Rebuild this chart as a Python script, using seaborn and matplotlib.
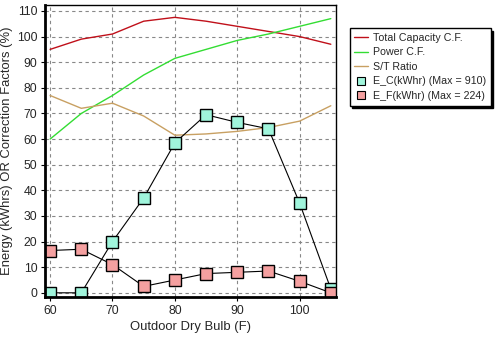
import matplotlib
matplotlib.use("Agg")
import matplotlib.pyplot as plt
import seaborn as sns
import pandas as pd
from matplotlib.lines import Line2D

temps = [60, 65, 70, 75, 80, 85, 90, 95, 100, 105]
total_cap_cf = [95, 99, 101, 106, 107.5, 106, 104, 102, 100, 97]
power_cf = [60, 70, 77, 85, 91.5, 95, 98.5, 101, 104, 107]
st_ratio = [77, 72, 74, 69, 61.5, 62, 63, 64.5, 67, 73]
e_c = [0, 0, 20, 37, 58.5, 69.5, 66.5, 64, 35, 1.5]
e_f = [16.5, 17, 11, 2.5, 5, 7.5, 8, 8.5, 4.5, 0]

labels = ["Total Capacity C.F.", "Power C.F.", "S/T Ratio",
          "E_C(kWhr) (Max = 910)", "E_F(kWhr) (Max = 224)"]
yticks = list(range(0, 111, 10))
xticks = [60, 70, 80, 90, 100]

sns.set_style("white")
plt.rcParams['font.family'] = ['Liberation Sans', 'DejaVu Sans']

df = pd.DataFrame({"t": temps, "tc": total_cap_cf, "p": power_cf, "st": st_ratio,
                   "ec": e_c, "ef": e_f})

fig = plt.figure(figsize=(4.96, 3.37), dpi=100)
ax = fig.add_axes([0.091, 0.119, 0.586, 0.866])

c_tc = "#c0101a"
c_p = "#33dd33"
c_st = "#c8a062"
c_ec = "#a0f5dc"
c_ef = "#f5a0a0"

sns.lineplot(data=df, x="t", y="tc", ax=ax, color=c_tc, lw=1.0)
sns.lineplot(data=df, x="t", y="p", ax=ax, color=c_p, lw=1.0)
sns.lineplot(data=df, x="t", y="st", ax=ax, color=c_st, lw=1.0)
sns.lineplot(data=df, x="t", y="ec", ax=ax, color="black", lw=0.8,
             marker="s", markersize=8, markerfacecolor=c_ec, markeredgecolor="black",
             markeredgewidth=1.0)
sns.lineplot(data=df, x="t", y="ef", ax=ax, color="black", lw=0.8,
             marker="s", markersize=8, markerfacecolor=c_ef, markeredgecolor="black",
             markeredgewidth=1.0)

ax.set_xlim(59.2, 105.8)
ax.set_ylim(-1.6, 112.3)
ax.set_xticks(xticks)
ax.set_yticks(yticks)
ax.grid(True, color="#888888", linestyle=(0, (3, 3)), lw=0.8)
ax.tick_params(axis="both", labelsize=8.8, length=3, color="black", direction="out", pad=2.5)
ax.tick_params(axis="both", which="both", left=True, bottom=True)
ax.set_xlabel("Outdoor Dry Bulb (F)", fontsize=9.4, labelpad=3)
ax.set_ylabel("Energy (kWhrs) OR Correction Factors (%)", fontsize=9.4, labelpad=3)
for side in ["left", "bottom"]:
    ax.spines[side].set_linewidth(2.0)
for side in ["top", "right"]:
    ax.spines[side].set_linewidth(1.0)
for s in ax.spines.values():
    s.set_color("black")

handles = [
    Line2D([], [], color=c_tc, lw=1.0),
    Line2D([], [], color=c_p, lw=1.0),
    Line2D([], [], color=c_st, lw=1.0),
    Line2D([], [], ls="none", marker="s", markersize=6, markerfacecolor=c_ec,
           markeredgecolor="black", markeredgewidth=0.8),
    Line2D([], [], ls="none", marker="s", markersize=6, markerfacecolor=c_ef,
           markeredgecolor="black", markeredgewidth=0.8),
]
leg = fig.legend(handles, labels, loc="upper left", bbox_to_anchor=(0.705, 0.917),
                 fontsize=7.7, frameon=True, fancybox=False, shadow={"color": "black", "alpha": 1},
                 borderpad=0.45, labelspacing=0.42, handlelength=1.3, handletextpad=0.4,
                 borderaxespad=0)
leg.get_frame().set_edgecolor("black")
leg.get_frame().set_linewidth(1.0)

fig.savefig("out.png", dpi=100)
